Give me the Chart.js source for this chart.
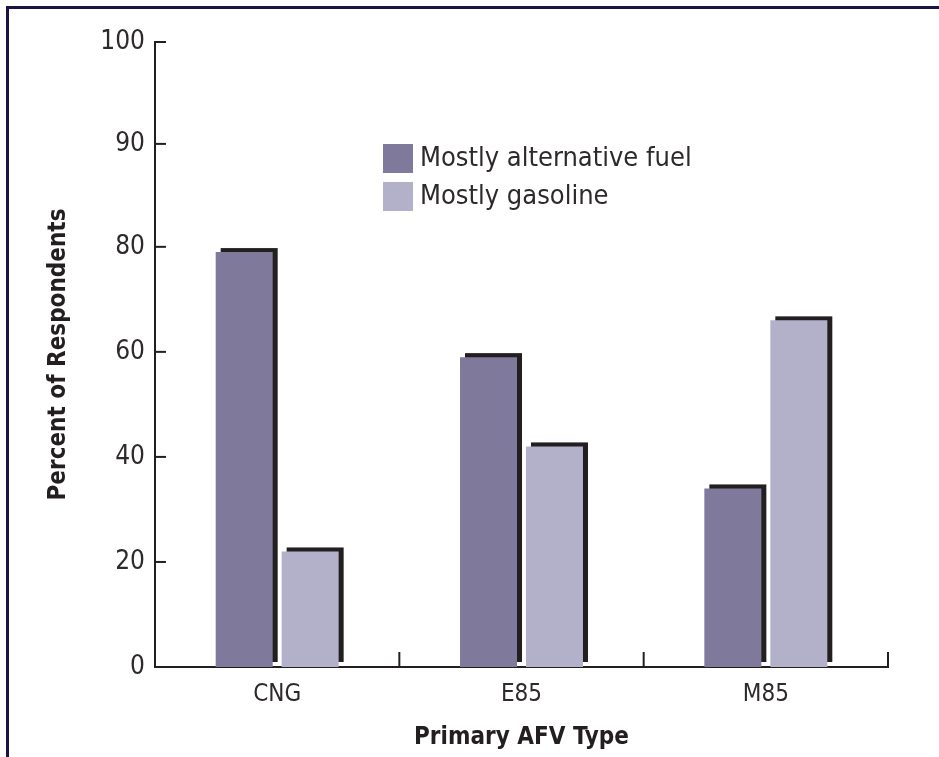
<!DOCTYPE html>
<html>
<head>
<meta charset="utf-8">
<script src="https://cdn.jsdelivr.net/npm/chart.js@4"></script>
<style>
  body { margin: 0; background: #fff; }
  #wrap { position: relative; width: 939px; height: 757px; }
  #frame { position: absolute; left: 6px; top: 6px; right: 0; bottom: 0;
           border-top: 3px solid #1c1247; border-left: 3px solid #1c1247; }
  canvas { position: absolute; left: 0; top: 0; }
</style>
</head>
<body>
<div id="wrap">
  <div id="frame"></div>
  <canvas id="myChart" width="939" height="757"></canvas>
</div>
<script>
const categories = ['CNG', 'E85', 'M85'];
const seriesNames = ['Mostly alternative fuel', 'Mostly gasoline'];
const altFuel = [79, 59, 34];
const gasoline = [22, 42, 66];
// the original axis is uneven: 0-80 in steps of 20, then 90 and 100 at the same spacing
const tickValues = [0, 20, 40, 60, 80, 99.6, 119];
const tickLabels = ['0', '20', '40', '60', '80', '90', '100'];

const FONT = '"Liberation Sans Narrow", "DejaVu Sans Condensed", "Liberation Sans", sans-serif';
const INK = '#231f20';
const TEXT = '#2e2a2b';
const colors = ['#7f799b', '#b3b1c9'];

// dark offset block behind every bar
const shadowPlugin = {
    id: 'shadow',
    beforeDatasetsDraw(chart) {
        const ctx = chart.ctx;
        ctx.save();
        ctx.fillStyle = INK;
        chart.data.datasets.forEach((ds, i) => {
            chart.getDatasetMeta(i).data.forEach(bar => {
                const p = bar.getProps(['x', 'y', 'width', 'base'], true);
                ctx.fillRect(p.x - p.width / 2 + 5, p.y - 4, p.width, (p.base - 5) - (p.y - 4));
            });
        });
        ctx.restore();
    }
};

// inward tick marks and the legend box
const extrasPlugin = {
    id: 'extras',
    afterDraw(chart) {
        const ctx = chart.ctx;
        const x = chart.scales.x, y = chart.scales.y;
        const area = chart.chartArea;
        ctx.save();
        ctx.strokeStyle = INK;
        ctx.lineWidth = 2;
        y.ticks.forEach(t => {
            const py = y.getPixelForValue(t.value);
            ctx.beginPath();
            ctx.moveTo(area.left, py);
            ctx.lineTo(area.left + 11, py);
            ctx.stroke();
        });
        const step = (x.right - x.left) / categories.length;
        for (let i = 1; i <= categories.length; i++) {
            const px = x.left + step * i;
            ctx.beginPath();
            ctx.moveTo(px, area.bottom);
            ctx.lineTo(px, area.bottom - 15);
            ctx.stroke();
        }
        // legend
        const lx = area.left + 228, ly = area.top + 102;
        ctx.font = '27px ' + FONT;
        ctx.textBaseline = 'middle';
        chart.data.datasets.forEach((ds, i) => {
            ctx.fillStyle = ds.backgroundColor;
            ctx.fillRect(lx, ly + i * 38, 30, 29);
            ctx.fillStyle = TEXT;
            ctx.fillText(ds.label, lx + 37, ly + i * 38 + 15);
        });
        ctx.restore();
    }
};

const chart = new Chart(document.getElementById('myChart'), {
    type: 'bar',
    data: {
        labels: categories,
        datasets: [
            { label: seriesNames[0], data: altFuel, backgroundColor: colors[0] },
            { label: seriesNames[1], data: gasoline, backgroundColor: colors[1] }
        ]
    },
    options: {
        responsive: false,
        animation: false,
        categoryPercentage: 0.54,
        barPercentage: 0.864,
        layout: { padding: { top: 42, right: 51, left: 0, bottom: 0 } },
        plugins: {
            legend: { display: false },
            tooltip: { enabled: false }
        },
        scales: {
            x: {
                afterFit(s) { s.height = 90; },
                grid: { display: false, drawTicks: false },
                border: { display: true, color: INK, width: 2 },
                ticks: { color: TEXT, padding: 13, font: { family: FONT, size: 24 } },
                title: {
                    display: true, text: 'Primary AFV Type', color: INK,
                    font: { family: FONT, size: 24, weight: 'bold' },
                    padding: { top: 0, bottom: 5 }
                }
            },
            y: {
                min: 0,
                max: 119,
                afterFit(s) { s.width = 155; },
                afterBuildTicks(s) { s.ticks = tickValues.map(v => ({ value: v })); },
                grid: { display: false, drawTicks: false },
                border: { display: true, color: INK, width: 2 },
                ticks: {
                    color: TEXT, padding: 10,
                    font: { family: FONT, size: 26 },
                    callback: (v, i) => tickLabels[i]
                },
                title: {
                    display: true, text: 'Percent of Respondents', color: INK,
                    font: { family: FONT, size: 24, weight: 'bold' },
                    padding: { top: 44, bottom: 0 }
                }
            }
        }
    },
    plugins: [shadowPlugin, extrasPlugin]
});
</script>
</body>
</html>
